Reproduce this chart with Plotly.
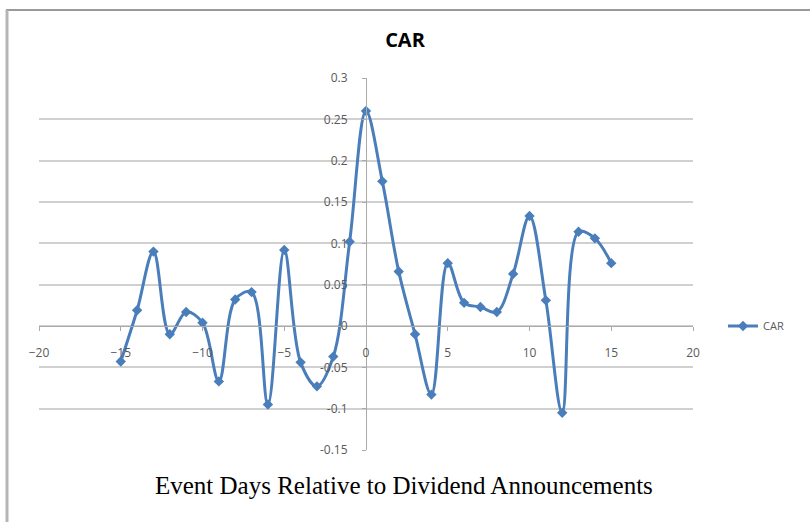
import plotly.graph_objects as go

days = list(range(-15, 16))
car = [-0.043, 0.019, 0.090, -0.010, 0.017, 0.004, -0.067, 0.032, 0.041, -0.095,
       0.092, -0.044, -0.073, -0.037, 0.102, 0.260, 0.175, 0.066, -0.010, -0.083,
       0.076, 0.028, 0.023, 0.017, 0.063, 0.133, 0.031, -0.105, 0.114, 0.106, 0.076]

x_ticks = [-20, -15, -10, -5, 0, 5, 10, 15, 20]
y_ticks = [-0.15, -0.1, -0.05, 0, 0.05, 0.1, 0.15, 0.2, 0.25, 0.3]
y_labels = ["-0.15", "-0.1", "-0.05", "0", "0.05", "0.1", "0.15", "0.2", "0.25", "0.3"]

# plot area in pixels
L, R, T, B = 39, 693, 78, 450
W, H = 810, 522


def px_to_paper_x(px):
    return (px - L) / (R - L)


def px_to_paper_y(py):
    return (B - py) / (B - T)


blue = "#4A7EBB"

fig = go.Figure()
fig.add_trace(go.Scatter(
    x=days, y=car, mode="lines+markers", name="CAR",
    line=dict(color=blue, width=3, shape="spline", smoothing=1.0),
    marker=dict(symbol="diamond", size=8, color=blue),
))

y0_frac = (0 - (-0.15)) / (0.3 - (-0.15))
x0_frac = (0 - (-20)) / (20 - (-20))

fig.update_layout(
    width=W, height=H,
    margin=dict(l=L, r=W - R, t=T, b=H - B, autoexpand=False),
    paper_bgcolor="white", plot_bgcolor="white",
    title=dict(text="<b>CAR</b>", x=0.5, xref="container", y=1 - 40 / H, yref="container",
               xanchor="center", yanchor="middle",
               font=dict(family="Open Sans", size=20, color="black")),
    showlegend=True,
    legend=dict(x=px_to_paper_x(723), y=y0_frac, xanchor="left", yanchor="middle",
                font=dict(family="Open Sans", size=11, color="#595959"),
                bgcolor="rgba(0,0,0,0)"),
    xaxis=dict(range=[-20, 20], tickvals=x_ticks, anchor="free", position=y0_frac,
               showgrid=False, zeroline=False, showline=True, linecolor="#aaaaaa", linewidth=1,
               ticks="outside", ticklen=4, tickcolor="#aaaaaa", ticklabelstandoff=12,
               automargin=False,
               tickfont=dict(family="Open Sans", size=12, color="#595959")),
    yaxis=dict(range=[-0.15, 0.3], tickvals=y_ticks, ticktext=y_labels,
               anchor="free", position=x0_frac,
               showgrid=True, gridcolor="#d0d0d0", gridwidth=1.5, zeroline=False,
               showline=True, linecolor="#aaaaaa", linewidth=1,
               ticks="outside", ticklen=4, tickcolor="#aaaaaa", ticklabelstandoff=12,
               automargin=False,
               tickfont=dict(family="Open Sans", size=12, color="#595959")),
)

# outer chart frame (top and left edges visible in the reference)
fig.add_shape(type="line", xref="paper", yref="paper",
              x0=px_to_paper_x(6), x1=px_to_paper_x(812), y0=px_to_paper_y(10), y1=px_to_paper_y(10),
              line=dict(color="#9a9a9a", width=2))
fig.add_shape(type="line", xref="paper", yref="paper",
              x0=px_to_paper_x(7), x1=px_to_paper_x(7), y0=px_to_paper_y(10), y1=px_to_paper_y(525),
              line=dict(color="#b5b5b5", width=3))

fig.add_annotation(text="Event Days Relative to Dividend Announcements",
                   xref="paper", yref="paper", x=px_to_paper_x(404), y=px_to_paper_y(486),
                   xanchor="center", yanchor="middle", showarrow=False,
                   font=dict(family="Liberation Serif", size=25, color="black"))

fig.write_html("out.html",
               config={"displayModeBar": False},
               post_script="document.body.style.margin='0';document.body.style.overflow='hidden';")
